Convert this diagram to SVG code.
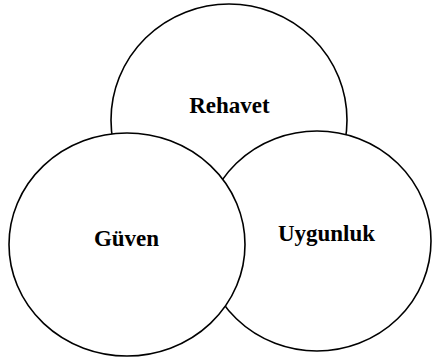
<svg xmlns="http://www.w3.org/2000/svg" width="432" height="358" viewBox="0 0 432 358">
<style>
.c{fill:#fff;stroke:#000;stroke-width:1.6}
.t{font-family:"Liberation Serif","Times New Roman",serif;font-weight:bold;font-size:23px;text-anchor:middle;fill:#000}
</style>
<rect width="432" height="358" fill="#fff"/>
<g id="rehavet">
<ellipse class="c" cx="229" cy="120" rx="118" ry="116"/>
<text class="t" x="229.5" y="113">Rehavet</text>
</g>
<g id="uygunluk">
<ellipse class="c" cx="317" cy="241" rx="114" ry="110"/>
<text class="t" x="326.5" y="241">Uygunluk</text>
</g>
<g id="guven">
<ellipse class="c" cx="127" cy="244.5" rx="118" ry="111.5"/>
<text class="t" x="126.5" y="246">Güven</text>
</g>
<g id="connectors"></g>
</svg>
